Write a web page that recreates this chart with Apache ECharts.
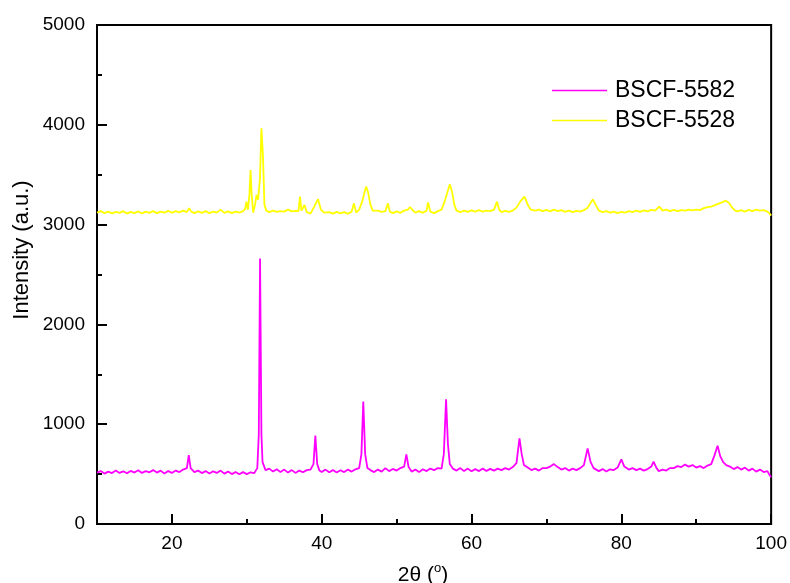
<!DOCTYPE html>
<html>
<head>
<meta charset="utf-8">
<script src="https://cdn.jsdelivr.net/npm/echarts@6/dist/echarts.min.js"></script>
<style>html,body{margin:0;padding:0;background:#fff;}#c{width:790px;height:583px;}</style>
</head>
<body>
<div id="c"></div>
<script>
// BSCF-5582 (magenta)
var twoTheta5582 = [10,10.5,11,11.5,12,12.5,13,13.5,14,14.5,15,15.5,16,16.5,17,17.5,18,18.5,19,19.5,20,20.5,21,21.5,22,22.25,22.5,23,23.5,24,24.5,25,25.5,26,26.5,27,27.5,28,28.5,29,29.5,30,30.5,31,31.4,31.6,31.77,31.95,32.1,32.5,33,33.5,34,34.5,35,35.5,36,36.5,37,37.5,38,38.5,38.9,39.15,39.4,39.7,40,40.5,41,41.5,42,42.5,43,43.5,44,44.5,45,45.3,45.55,45.8,46.1,46.5,47,47.5,48,48.5,49,49.5,50,50.5,51,51.3,51.6,52,52.5,53,53.5,54,54.5,55,55.5,56,56.3,56.6,56.85,57.1,57.5,58,58.5,59,59.5,60,60.5,61,61.5,62,62.5,63,63.5,64,64.5,65,65.5,66,66.4,66.7,67,67.5,68,68.5,69,69.5,70,70.5,71,71.5,72,72.5,73,73.5,74,74.5,75,75.5,75.9,76.3,76.5,77,77.5,78,78.5,79,79.5,80,80.4,81,81.5,82,82.5,83,83.5,84,84.3,84.7,85,85.5,86,86.5,87,87.5,88,88.5,89,89.5,90,90.5,91,91.5,92,92.4,92.85,93.2,93.6,94,94.5,95,95.5,96,96.5,97,97.5,98,98.5,99,99.5,99.8,100];
var intensity5582 = [515,530,505,525,510,535,512,528,508,532,515,538,512,530,518,540,515,535,505,530,512,535,520,545,560,690,560,520,535,510,530,505,528,512,535,505,525,500,522,498,520,500,518,510,560,900,2660,900,620,540,555,525,548,520,545,515,540,512,535,518,540,545,600,885,600,535,520,545,518,540,515,538,520,545,525,548,560,700,1226,700,560,540,520,545,525,560,530,552,535,560,575,698,570,525,545,520,548,530,555,540,560,555,700,1249,800,600,555,535,560,530,555,528,550,530,555,532,552,535,555,540,560,545,570,610,858,700,590,565,540,555,535,560,560,575,600,570,545,560,535,555,540,560,590,758,620,560,540,530,550,525,548,540,565,648,575,545,560,540,555,535,550,575,625,560,530,545,535,560,560,580,570,595,575,590,565,580,560,585,600,680,785,680,620,590,575,550,570,545,565,535,555,525,545,520,530,490,470];

// BSCF-5528 (yellow)
var twoTheta5528 = [10,10.5,11,11.5,12,12.5,13,13.5,14,14.5,15,15.5,16,16.5,17,17.5,18,18.5,19,19.5,20,20.5,21,21.5,22,22.3,22.6,23,23.5,24,24.5,25,25.5,26,26.5,27,27.5,28,28.5,29,29.5,29.8,29.95,30.15,30.35,30.5,30.65,30.85,31.1,31.3,31.5,31.75,31.95,32.15,32.35,32.6,33,33.5,34,34.5,35,35.5,36,36.5,36.9,37.1,37.3,37.7,38,38.5,39,39.5,39.9,40.3,40.5,41,41.5,42,42.5,43,43.5,44,44.3,44.6,45,45.4,45.8,45.96,46.2,46.5,46.8,47,47.5,48,48.5,48.84,49.1,49.5,50,50.5,51,51.5,51.8,52.2,52.5,53,53.5,54,54.2,54.5,55,55.5,56,56.4,56.8,57.1,57.4,57.7,58,58.5,59,59.5,60,60.5,61,61.5,62,62.5,63,63.4,63.7,64,64.5,65,65.5,66,66.5,67.07,67.5,67.9,68.5,69,69.5,70,70.5,71,71.5,72,72.5,73,73.5,74,74.5,75,75.5,76.2,76.7,77,77.5,78,78.5,79,79.5,80,80.5,81,81.5,82,82.5,83,83.5,84,84.5,85.07,85.5,86,86.5,87,87.5,88,88.5,89,89.5,90,90.5,91,91.5,92,92.5,93,93.5,93.96,94.4,94.8,95.2,95.5,96,96.5,97,97.5,98,98.5,99,99.5,99.8,100];
var intensity5528 = [3120,3135,3115,3130,3112,3128,3118,3135,3110,3128,3115,3132,3112,3130,3118,3135,3115,3130,3120,3138,3118,3135,3122,3140,3125,3165,3130,3115,3132,3118,3135,3115,3130,3120,3150,3118,3132,3115,3130,3120,3135,3160,3230,3150,3300,3547,3300,3120,3200,3297,3250,3450,3965,3700,3200,3140,3125,3140,3128,3135,3130,3150,3132,3138,3135,3280,3140,3196,3125,3110,3180,3256,3150,3120,3100,3125,3110,3128,3112,3125,3108,3130,3213,3120,3150,3230,3350,3380,3320,3200,3140,3125,3140,3128,3135,3213,3130,3115,3132,3118,3140,3150,3176,3140,3120,3135,3118,3140,3223,3130,3115,3135,3150,3230,3330,3404,3330,3200,3140,3125,3140,3128,3142,3130,3145,3130,3140,3135,3150,3230,3150,3125,3138,3128,3140,3170,3230,3280,3200,3150,3140,3150,3135,3148,3132,3150,3135,3145,3128,3140,3125,3138,3130,3145,3170,3253,3180,3140,3125,3135,3120,3130,3115,3128,3120,3135,3125,3140,3128,3142,3132,3148,3140,3180,3140,3150,3135,3148,3135,3145,3140,3150,3142,3150,3145,3165,3175,3180,3195,3210,3225,3240,3215,3170,3140,3132,3145,3130,3148,3135,3150,3140,3145,3130,3110,3090];

var xMajorTicks = [20,40,60,80,100];
var xMinorTicks = [10,30,50,70,90];
var seriesNames = ['BSCF-5582','BSCF-5528'];

function pairs(xs, ys){ return xs.map(function(x,i){ return [x, ys[i]]; }); }

var FONT = '"Liberation Sans", Arial, sans-serif';
var chart = echarts.init(document.getElementById('c'), null, {renderer:'canvas'});
chart.setOption({
  animation: false,
  backgroundColor: '#ffffff',
  grid: {left: 97, right: 18, top: 25, bottom: 59, show: true, borderColor: '#000', borderWidth: 2, backgroundColor: 'transparent'},
  legend: {
    orient: 'vertical', left: 552, top: 79, padding: 0,
    icon: 'rect',
    itemWidth: 55, itemHeight: 1.5, itemGap: 7,
    textStyle: {fontFamily: FONT, fontSize: 23, color: '#000', lineHeight: 23, padding: [0,0,0,3]},
    data: seriesNames
  },
  xAxis: [{
    type: 'value', min: 10, max: 100, position: 'bottom',
    axisLine: {show: true, onZero: false, lineStyle: {color: '#000', width: 2}},
    axisTick: {show: true, inside: true, length: 10, customValues: xMajorTicks, lineStyle: {color: '#000', width: 2}},
    axisLabel: {customValues: xMajorTicks, margin: 10, fontFamily: FONT, fontSize: 19, color: '#000'},
    splitLine: {show: false}
  },{
    type: 'value', min: 10, max: 100, position: 'bottom',
    axisLine: {show: false},
    axisTick: {show: true, inside: true, length: 5, customValues: xMinorTicks, lineStyle: {color: '#000', width: 2}},
    axisLabel: {show: false},
    splitLine: {show: false}
  }],
  yAxis: {
    type: 'value', min: 0, max: 5000, interval: 1000,
    axisLine: {show: true, lineStyle: {color: '#000', width: 2}},
    axisTick: {show: true, inside: true, length: 10, lineStyle: {color: '#000', width: 2}},
    minorTick: {show: true, splitNumber: 2, length: 5, lineStyle: {color: '#000', width: 2}},
    axisLabel: {margin: 12, fontFamily: FONT, fontSize: 19, color: '#000', formatter: function(v){ return String(v); }},
    splitLine: {show: false}
  },
  graphic: [
    {type: 'text', x: 22, y: 250, rotation: Math.PI/2,
     style: {text: 'Intensity (a.u.)', fontFamily: FONT, fontSize: 22, fill: '#000', textAlign: 'center', textVerticalAlign: 'middle'}},
    {type: 'text', x: 423, y: 574,
     style: {text: '{n|2θ (}{s|o}{n|)}', textAlign: 'center', textVerticalAlign: 'middle',
       rich: {n: {fontFamily: FONT, fontSize: 21, fill: '#000', color: '#000', lineHeight: 24, verticalAlign: 'bottom'},
              s: {fontFamily: FONT, fontSize: 13, fill: '#000', color: '#000', lineHeight: 24, verticalAlign: 'top'}}}}
  ],
  series: [
    {name: seriesNames[0], type: 'line', symbol: 'none', xAxisIndex: 0, data: pairs(twoTheta5582, intensity5582),
     lineStyle: {color: '#ff00ff', width: 1.8}, itemStyle: {color: '#ff00ff'}},
    {name: seriesNames[1], type: 'line', symbol: 'none', xAxisIndex: 0, data: pairs(twoTheta5528, intensity5528),
     lineStyle: {color: '#ffff00', width: 1.8}, itemStyle: {color: '#ffff00'}}
  ]
});
</script>
</body>
</html>
